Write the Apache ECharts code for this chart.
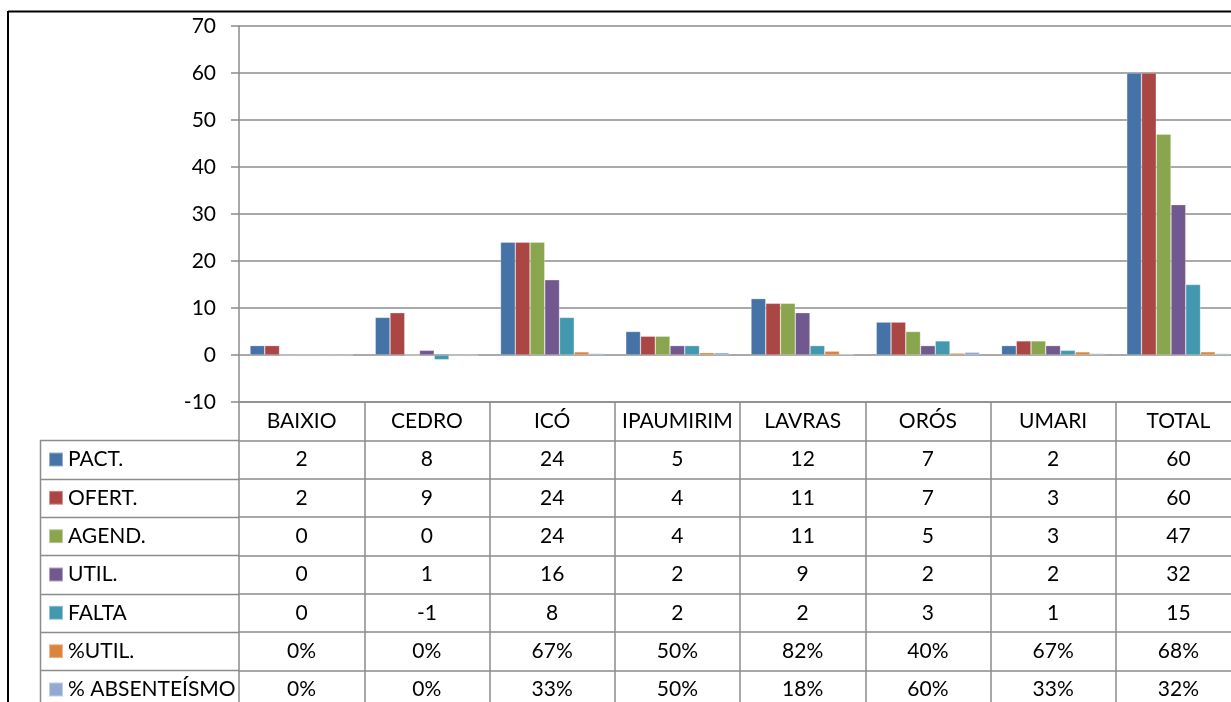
<!DOCTYPE html>
<html>
<head>
<meta charset="utf-8">
<script src="https://cdn.jsdelivr.net/npm/echarts@6/dist/echarts.min.js"></script>
<style>
html,body{margin:0;padding:0;background:#fff;overflow:hidden;width:1231px;height:702px;}
#c{position:absolute;left:0;top:0;width:1245px;height:712px;}
</style>
</head>
<body>
<div id="c"></div>
<script>
const categories = ['BAIXIO','CEDRO','ICÓ','IPAUMIRIM','LAVRAS','ORÓS','UMARI','TOTAL'];
const seriesNames = ['PACT.','OFERT.','AGEND.','UTIL.','FALTA','%UTIL.','% ABSENTEÍSMO'];
const pact   = [2, 8, 24, 5, 12, 7, 2, 60];
const ofert  = [2, 9, 24, 4, 11, 7, 3, 60];
const agend  = [0, 0, 24, 4, 11, 5, 3, 47];
const util   = [0, 1, 16, 2, 9, 2, 2, 32];
const falta  = [0, -1, 8, 2, 2, 3, 1, 15];
const pctUtil = [0, 0, 0.67, 0.50, 0.82, 0.40, 0.67, 0.68];
const pctAbs  = [0, 0, 0.33, 0.50, 0.18, 0.60, 0.33, 0.32];
const yTicks = {min: -10, max: 70, interval: 10};

const allValues = [pact, ofert, agend, util, falta, pctUtil, pctAbs];
const isPercent = [false, false, false, false, false, true, true];
const colors = ['#4572A7','#AA4643','#89A54E','#71588F','#4198AF','#DB843D','#93A9CF'];

const FONT = 'Lato, "Open Sans", sans-serif';
const FS = 21;
const gridLeft = 239, gridTop = 26, gridH = 376, gridW = 1002;
const rowH = 38.33;
const lineColor = '#8c8c8c';

function fmt(v, pct){ return pct ? Math.round(v*100) + '%' : String(v); }

const xAxes = [{
  type: 'category',
  data: categories,
  position: 'bottom',
  gridIndex: 0,
  axisLine: {onZero: false, lineStyle: {color: lineColor, width: 1.5}},
  axisTick: {show: true, interval: 0, length: 320, lineStyle: {color: lineColor, width: 1.5}},
  axisLabel: {interval: 0, margin: 0, lineHeight: rowH, fontSize: FS, fontFamily: FONT, color: '#000'},
  splitLine: {show: false}
}];
allValues.forEach((vals, i) => {
  xAxes.push({
    type: 'category',
    data: categories,
    position: 'bottom',
    gridIndex: 0,
    offset: rowH * (i + 1),
    axisLine: {onZero: false, lineStyle: {color: lineColor, width: 1.5}},
    axisTick: {show: false},
    axisLabel: {interval: 0, margin: 0, lineHeight: rowH, fontSize: FS, fontFamily: FONT, color: '#000',
      formatter: (v, idx) => fmt(vals[idx], isPercent[i])},
    splitLine: {show: false}
  });
});

const series = allValues.map((vals, i) => ({
  name: seriesNames[i],
  type: 'bar',
  xAxisIndex: 0,
  yAxisIndex: 0,
  data: vals,
  barGap: '0%',
  barCategoryGap: '17.6%',
  itemStyle: {color: colors[i], borderColor: 'rgba(255,255,255,0.45)', borderWidth: 0.6},
  emphasis: {disabled: true},
  silent: true
}));

// legend column borders (decoration of the data table)
const graphics = [];
const legLeft = 40;
const tableTop = gridTop + gridH + rowH;
for (let i = 0; i <= allValues.length; i++) {
  const y = Math.round(tableTop + rowH * i) + 0.5;
  graphics.push({type: 'line', shape: {x1: legLeft, y1: y, x2: gridLeft, y2: y},
    style: {stroke: lineColor, lineWidth: 1.5}, silent: true});
}
graphics.push({type: 'line', shape: {x1: legLeft + 0.5, y1: tableTop, x2: legLeft + 0.5, y2: 712},
  style: {stroke: lineColor, lineWidth: 1.5}, silent: true});
// outer chart frame
graphics.push({type: 'line', shape: {x1: 8, y1: 11.5, x2: 1245, y2: 11.5}, style: {stroke: '#000', lineWidth: 2}, silent: true});
graphics.push({type: 'line', shape: {x1: 8, y1: 11, x2: 8, y2: 712}, style: {stroke: '#000', lineWidth: 2}, silent: true});

const chart = echarts.init(document.getElementById('c'), null, {renderer: 'canvas'});
chart.setOption({
  animation: false,
  backgroundColor: '#fff',
  grid: {left: gridLeft, top: gridTop, width: gridW, height: gridH, containLabel: false},
  legend: {
    orient: 'vertical',
    left: 48,
    top: tableTop + rowH / 2 - 12,
    padding: 0,
    itemWidth: 14,
    itemHeight: 14,
    itemGap: rowH - 24,
    icon: 'rect',
    selectedMode: false,
    data: seriesNames,
    textStyle: {fontSize: FS, fontFamily: FONT, color: '#000', lineHeight: 24}
  },
  xAxis: xAxes,
  yAxis: {
    type: 'value',
    min: yTicks.min, max: yTicks.max, interval: yTicks.interval,
    axisLine: {show: true, lineStyle: {color: lineColor, width: 1.5}},
    axisTick: {show: true, length: 8, lineStyle: {color: lineColor, width: 1.5}},
    axisLabel: {margin: 23, fontSize: FS, fontFamily: FONT, color: '#000'},
    splitLine: {show: true, lineStyle: {color: lineColor, width: 1.5}}
  },
  series: series,
  graphic: graphics
});
</script>
</body>
</html>
